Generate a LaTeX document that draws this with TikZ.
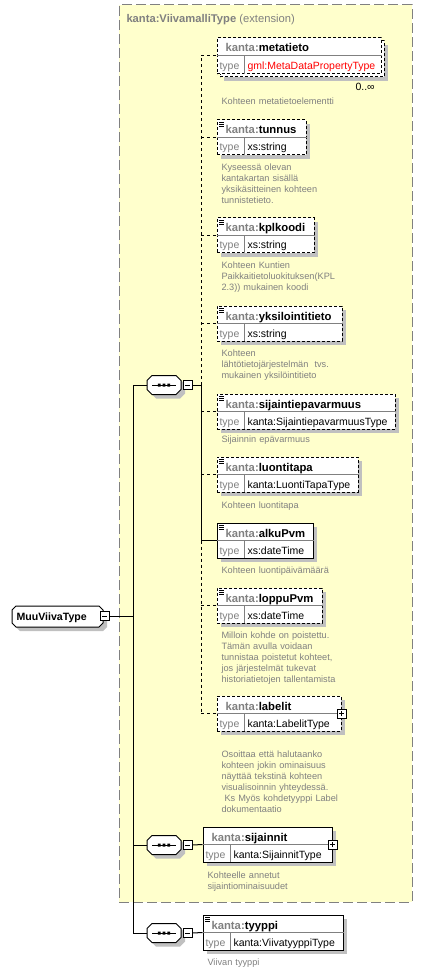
\documentclass[tikz,border=0pt]{standalone}
\usepackage{fontspec}
\setmainfont{Liberation Sans}
\usetikzlibrary{fit,shadows}
\definecolor{ylw}{RGB}{255,255,204}
\definecolor{shd}{RGB}{192,192,192}
\definecolor{txg}{RGB}{128,128,128}
\definecolor{brd}{RGB}{128,128,128}
\newcommand\hdrf{\fontsize{11.3}{13}\selectfont\bfseries}
\newcommand\typf{\fontsize{10.5}{12}\selectfont}
\newcommand\dscf{\fontsize{9.2}{11}\selectfont}
\tikzset{
  conn/.style={line width=1pt},
  dconn/.style={line width=1pt, dash pattern=on 3pt off 3pt},
  dbox/.style={dash pattern=on 3pt off 2pt},
  sbox/.style={solid},
  boxshadow/.style={drop shadow={shadow xshift=4pt, shadow yshift=-4pt, fill=shd, opacity=1}},
  desc/.style={anchor=base west, inner sep=0pt, font=\dscf, text=txg, text width=175pt, align=left},
  smallbox/.style={draw, fill=white, line width=1pt, minimum size=9pt, inner sep=0pt},
}
% element box: id x0 y0 x1 y1 style name type icon
\newcommand\elem[9]{%
  \pgfmathsetmacro\ym{(#3+#5)/2}%
  \node[fit={(#2,#3) (#4,#5)}, inner sep=0pt, draw, line width=1pt, fill=white, #6] (#1) {};
  \draw[brd, line width=1pt] (#1.west) -- (#1.east);
  \draw[brd, line width=1pt] ({#2+27},\ym) -- ({#2+27},#5);
  \node[anchor=base west, inner sep=0pt, font=\hdrf] (#1-n) at ({#2+8},{#3+14}) {\textcolor{txg}{kanta:}#7};
  \node[anchor=base west, inner sep=0pt, font=\typf, text=txg] (#1-t) at ({#2+2},{#5-4}) {type};
  \node[anchor=base west, inner sep=0pt, font=\typf] (#1-v) at ({#2+30},{#5-4}) {#8};
  \ifnum#9=1
    \draw[line width=0.8pt] ({#2+2},{#3+2}) -- ++(5,0) ({#2+2},{#3+4}) -- ++(5,0) ({#2+2},{#3+6}) -- ++(5,0);
  \fi
}
\newcommand\octdraw[2]{%
  \path[#1] ({\xa+#2},\ya) -- ({\xb-#2},\ya) -- (\xb,{\ya+#2}) -- (\xb,{\yb-#2}) -- ({\xb-#2},\yb) -- ({\xa+#2},\yb) -- (\xa,{\yb-#2}) -- (\xa,{\ya+#2}) -- cycle;}
% octagon: id cx cy w h chamfer
\newcommand\octa[6]{%
  \pgfmathsetmacro\xa{#2-#4/2}\pgfmathsetmacro\xb{#2+#4/2}%
  \pgfmathsetmacro\ya{#3-#5/2}\pgfmathsetmacro\yb{#3+#5/2}%
  \octdraw{fill=shd, shift={(4,4)}}{#6}
  \octdraw{draw, fill=white, line width=1pt}{#6}
  \node[minimum width=#4pt, minimum height=#5pt, inner sep=0pt, outer sep=0pt] (#1) at (#2,#3) {};
}
% sequence compositor: id cy
\newcommand\seqc[2]{%
  \octa{#1}{164}{#2}{34}{19}{5}
  \draw[line width=1pt] (152,#2) -- (176,#2);
  \fill (157.8,{#2-1.5}) rectangle ++(2.8,3) (162.6,{#2-1.5}) rectangle ++(2.8,3) (167.4,{#2-1.5}) rectangle ++(2.8,3);
  \node[smallbox] (#1-m) at (187.5,#2) {};
  \draw[line width=1pt] ([xshift=-2.5pt]#1-m.center) -- ([xshift=2.5pt]#1-m.center);
}
\newcommand\plusbox[1]{%
  \node[smallbox] (#1-p) at (#1.east) {};
  \draw[line width=1pt] ([xshift=-2.5pt]#1-p.center) -- ([xshift=2.5pt]#1-p.center) ([yshift=-2.5pt]#1-p.center) -- ([yshift=2.5pt]#1-p.center);
}
\begin{document}
\begin{tikzpicture}[x=1pt, y=-1pt, line width=1pt]
\fill[white] (0,0) rectangle (423,973);
\useasboundingbox (0,0) rectangle (423,973);

% extension area
\node[fit={(119,5) (412,902)}, inner sep=0pt, draw=brd, fill=ylw, dash pattern=on 10pt off 4pt, line width=1pt] (ext) {};
\node[anchor=base west, inner sep=0pt, font=\fontsize{11.2}{13}\selectfont, text=txg] (ext-t) at (126,23) {\textbf{kanta:ViivamalliType} (extension)};

% root
\octa{mvt}{57.5}{616.5}{91}{21}{4}
\node[anchor=base west, inner sep=0pt, font=\fontsize{10.6}{12}\selectfont\bfseries] (mvt-n) at (16,620.5) {MuuViivaType};
\node[smallbox] (mvt-m) at (104.5,616) {};
\draw[line width=1pt] ([xshift=-2.5pt]mvt-m.center) -- ([xshift=2.5pt]mvt-m.center);

% sequences
\seqc{s1}{385}
\seqc{s2}{845}
\seqc{s3}{933}

% elements
\node[fit={(220,41) (384,77)}, inner sep=0pt, draw, dbox, fill=white, line width=1pt, boxshadow] (metab) {};
\elem{meta}{217}{38}{381}{74}{dbox}{metatieto}{\textcolor{red}{gml:MetaDataPropertyType}}{0}
\node[anchor=base west, inner sep=0pt, font=\typf] (meta-o) at (355,91) {0..∞};
\elem{tun}{217}{120}{306}{155}{dbox,boxshadow}{tunnus}{xs:string}{1}
\elem{kpl}{217}{218}{314}{253}{dbox,boxshadow}{kplkoodi}{xs:string}{1}
\elem{yks}{217}{306}{342}{341}{dbox,boxshadow}{yksilointitieto}{xs:string}{1}
\elem{sij}{217}{394}{395}{429}{dbox,boxshadow}{sijaintiepavarmuus}{kanta:SijaintiepavarmuusType}{1}
\elem{luo}{217}{457}{358}{492}{dbox,boxshadow}{luontitapa}{kanta:LuontiTapaType}{1}
\elem{alk}{217}{523}{313}{558}{sbox,boxshadow}{alkuPvm}{xs:dateTime}{1}
\elem{lop}{217}{588}{322}{623}{dbox,boxshadow}{loppuPvm}{xs:dateTime}{1}
\elem{lab}{217}{696}{341}{731}{dbox,boxshadow}{labelit}{kanta:LabelitType}{0}
\plusbox{lab}
\elem{sjn}{203}{827}{332}{862}{sbox,boxshadow}{sijainnit}{kanta:SijainnitType}{0}
\plusbox{sjn}
\elem{tyy}{203}{915}{343}{950}{sbox,boxshadow}{tyyppi}{kanta:ViivatyyppiType}{1}

% descriptions
\node[desc] (meta-d) at (221,105) {Kohteen metatietoelementti};
\node[desc] (tun-d) at (221,171) {Kyseessä olevan\\kantakartan sisällä\\yksikäsitteinen kohteen\\tunnistetieto.};
\node[desc] (kpl-d) at (221,269) {Kohteen Kuntien\\Paikkaitietoluokituksen(KPL\\2.3)) mukainen koodi};
\node[desc] (yks-d) at (221,356) {Kohteen\\lähtötietojärjestelmän\ \ tvs.\\mukainen yksilöintitieto};
\node[desc] (sij-d) at (221,442) {Sijainnin epävarmuus};
\node[desc] (luo-d) at (221,508) {Kohteen luontitapa};
\node[desc] (alk-d) at (221,573) {Kohteen luontipäivämäärä};
\node[desc] (lop-d) at (221,638) {Milloin kohde on poistettu.\\Tämän avulla voidaan\\tunnistaa poistetut kohteet,\\jos järjestelmät tukevat\\historiatietojen tallentamista};
\node[desc] (lab-d) at (221,757) {Osoittaa että halutaanko\\kohteen jokin ominaisuus\\näyttää tekstinä kohteen\\visualisoinnin yhteydessä.\\\hspace*{3pt}Ks Myös kohdetyyppi Label\\dokumentaatio};
\node[desc] (sjn-d) at (207,878) {Kohteelle annetut\\sijaintiominaisuudet};
\node[desc] (tyy-d) at (207,965) {Viivan tyyppi};

% connectors
\coordinate (sp) at (133,385);
\coordinate (vj) at (201,385);
\draw[conn] (mvt-m.east) -- (mvt-m.east -| sp);
\draw[conn] (s1.west) -- (sp) -- (s3.west -| sp) -- (s3.west);
\draw[conn] (s2.west -| sp) -- (s2.west);
\draw[conn] (s1-m.east) -- (vj);
\draw[dconn] (vj) -- (meta.west -| vj);
\draw[conn] (vj) -- (alk.west -| vj);
\draw[dconn] (alk.west -| vj) -- (lab.west -| vj);
\foreach \e in {meta,tun,kpl,yks,sij,luo,lop,lab}{\draw[dconn] (\e.west -| vj) -- (\e.west);}
\draw[conn] (alk.west -| vj) -- (alk.west);
\draw[conn] (s2-m.east) -- (sjn.west);
\draw[conn] (s3-m.east) -- (tyy.west);
\end{tikzpicture}
\end{document}
